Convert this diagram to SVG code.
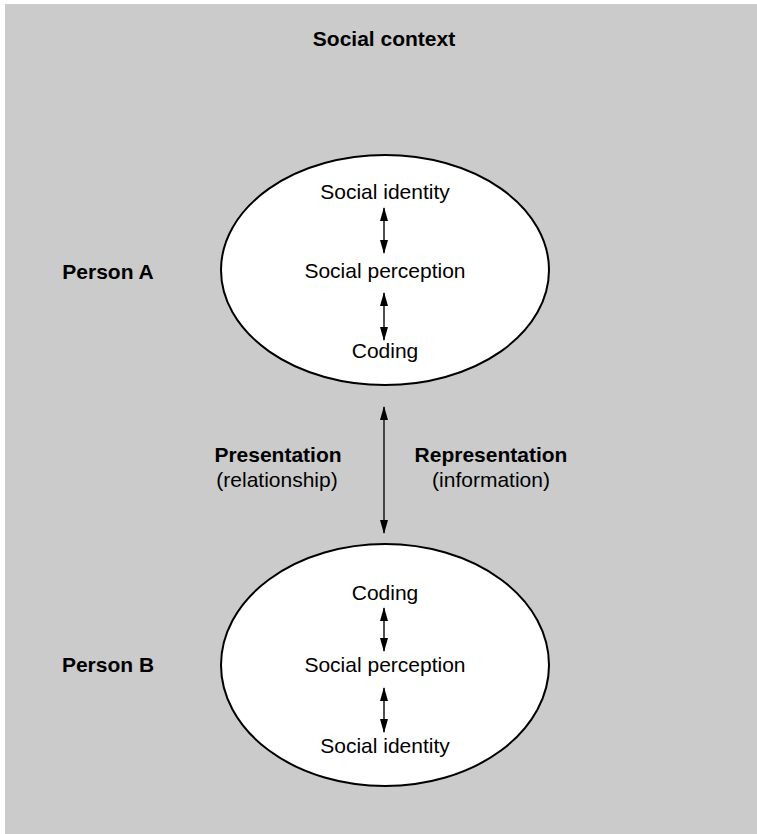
<svg xmlns="http://www.w3.org/2000/svg" width="757" height="834" viewBox="0 0 757 834">
  <style>
    text { font-family: "Liberation Sans", Arial, sans-serif; font-size: 21px; fill: #000; text-anchor: middle; }
    .b { font-weight: bold; }
    .person { fill: #fff; stroke: #000; stroke-width: 2; }
    .link { stroke: #222; stroke-width: 1.6; fill: none; marker-start: url(#head); marker-end: url(#head); }
  </style>
  <defs>
    <marker id="head" viewBox="0 0 14 8" refX="13" refY="4" markerWidth="14" markerHeight="8" markerUnits="userSpaceOnUse" orient="auto-start-reverse">
      <path d="M0,0 L14,4 L0,8 Z" fill="#000"/>
    </marker>
  </defs>

  <!-- surrounding social context -->
  <rect x="5" y="4" width="752" height="830" fill="#cbcbcb"/>
  <text class="b" x="384" y="46">Social context</text>

  <g id="personA">
    <ellipse class="person" cx="385" cy="270" rx="164" ry="115"/>
    <text class="b" x="108" y="279">Person A</text>
    <text x="385" y="199">Social identity</text>
    <text x="385" y="278">Social perception</text>
    <text x="385" y="358">Coding</text>
  </g>

  <g id="personB">
    <ellipse class="person" cx="385" cy="665" rx="164" ry="121"/>
    <text class="b" x="108" y="672">Person B</text>
    <text x="385" y="600">Coding</text>
    <text x="385" y="672">Social perception</text>
    <text x="385" y="753">Social identity</text>
  </g>

  <g id="exchange">
    <text class="b" x="278" y="462">Presentation</text>
    <text x="277" y="487">(relationship)</text>
    <text class="b" x="491" y="462">Representation</text>
    <text x="491" y="487">(information)</text>
  </g>

  <g id="connectors">
    <line class="link" x1="384" y1="208" x2="384" y2="253"/>
    <line class="link" x1="384" y1="293" x2="384" y2="340"/>
    <line class="link" x1="384" y1="407" x2="384" y2="533"/>
    <line class="link" x1="384" y1="608" x2="384" y2="651"/>
    <line class="link" x1="384" y1="688" x2="384" y2="732"/>
  </g>
</svg>
